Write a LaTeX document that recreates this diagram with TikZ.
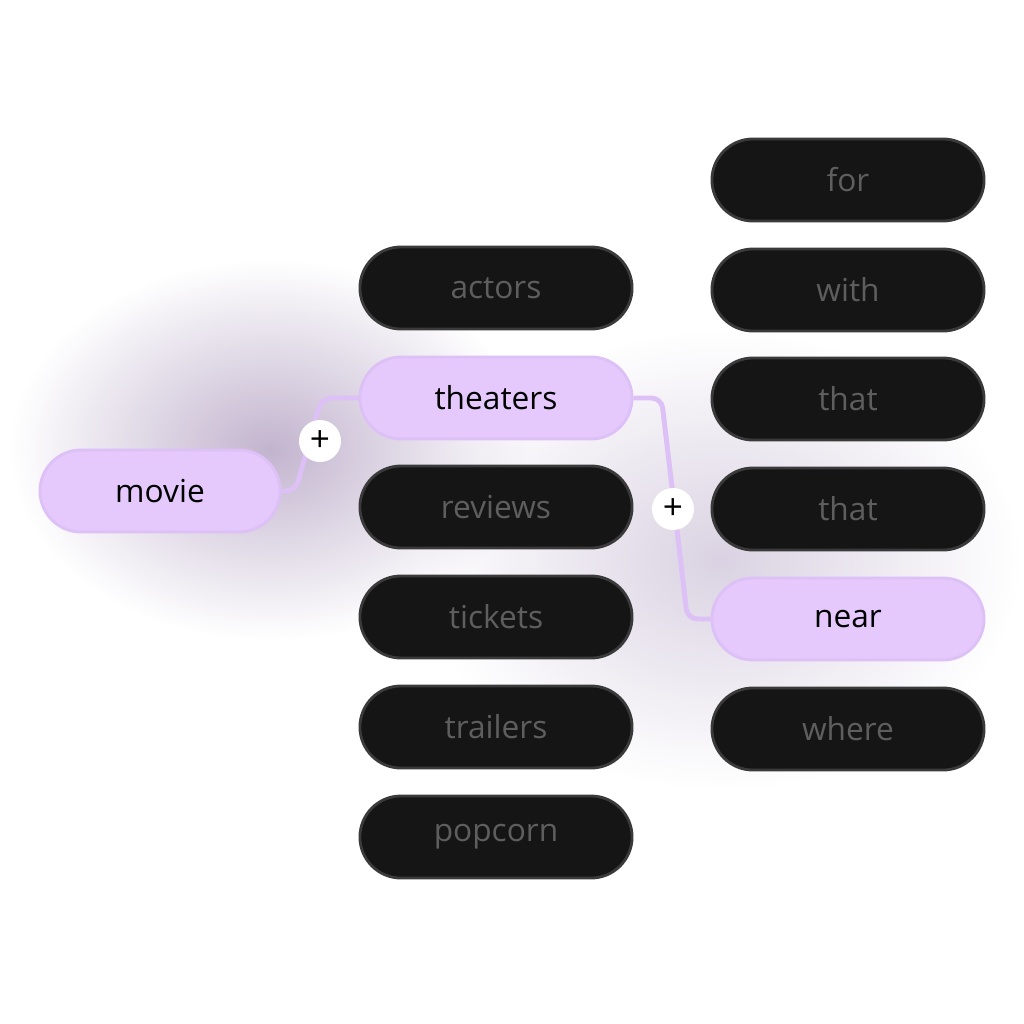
\documentclass[tikz,border=0pt]{standalone}
\usepackage{fontspec}
\setmainfont{Open Sans}
\usetikzlibrary{fadings}
\definecolor{pill}{HTML}{151515}
\definecolor{pillline}{HTML}{3A3A3A}
\definecolor{pilltext}{HTML}{5E5E5E}
\definecolor{lilac}{HTML}{E5C9FC}
\definecolor{lilacline}{HTML}{DCC0F6}
\definecolor{glow}{HTML}{C2B4CE}
\tikzfading[name=glowfade, inner color=transparent!0, outer color=transparent!100]
\begin{document}
\begin{tikzpicture}[x=0.01cm,y=-0.01cm]
\tikzset{
	dark/.style={draw=pillline, fill=pill, text=pilltext, line width=0.8pt,
		rounded corners=0.41cm, minimum width=2.72cm, minimum height=0.82cm,
		font=\fontsize{9}{9}\selectfont},
	pick/.style={dark, draw=lilacline, fill=lilac, text=black},
	plus/.style={circle, fill=white, minimum size=0.42cm, inner sep=0pt,
		font=\fontsize{10}{10}\selectfont},
	link/.style={draw=lilacline, line width=1.4pt, rounded corners=0.1cm}
}
\useasboundingbox (0,0) rectangle (1024,1024);

% glow
\fill[glow, path fading=glowfade] (270,450) ellipse (260 and 190);
\fill[glow!60, path fading=glowfade] (720,560) ellipse (300 and 230);

% movie
\node[pick, minimum width=2.4cm] (movie) at (160,491) {movie};

% second column
\node[dark] (actors)   at (496,288) {actors};
\node[pick] (theaters) at (496,398) {theaters};
\node[dark] (reviews)  at (496,507) {reviews};
\node[dark] (tickets)  at (496,617) {tickets};
\node[dark] (trailers) at (496,727) {trailers};
\node[dark] (popcorn)  at (496,837) {popcorn};

% third column
\node[dark] (for)   at (848,180) {for};
\node[dark] (with)  at (848,290) {with};
\node[dark] (that1) at (848,399) {that};
\node[dark] (that2) at (848,509) {that};
\node[pick] (near)  at (848,619) {near};
\node[dark] (where) at (848,729) {where};

% links
\coordinate (p1) at (320,441);
\coordinate (p2) at (673,509);
\draw[link] (movie.east) -- ++(14,0) -- ++(26,-93) -- (theaters.west);
\draw[link] (theaters.east) -- ++(28,0) -- ++(26,221) -- (near.west);
\node[plus] (plus1) at (p1) {+};
\node[plus] (plus2) at (p2) {+};
\end{tikzpicture}
\end{document}
